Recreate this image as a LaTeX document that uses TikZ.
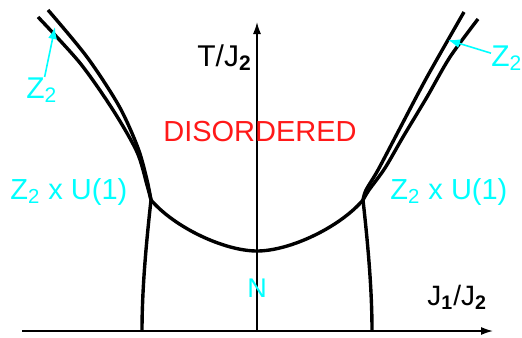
\documentclass[tikz,border=0pt]{standalone}
\usepackage{fontspec}
\setmainfont{Liberation Sans}
\usepackage{xcolor}
\usepackage{tikz}
\usetikzlibrary{arrows.meta, positioning, calc}
\definecolor{phasecyan}{RGB}{0, 255, 255}
\definecolor{phasered}{RGB}{255, 25, 25}

\begin{document}
\begin{tikzpicture}[x=0.5pt, y=-0.5pt,
        boundary/.style={line width=1.7pt},
        axis/.style={line width=0.75pt, -{Latex[length=6pt, width=4pt]}},
        phase/.style={text=phasecyan, inner sep=0pt, font=\fontsize{14.5}{17}\selectfont},
        zarrow/.style={phasecyan, line width=0.8pt, -{Latex[length=6pt, width=4.5pt]}}]
    \useasboundingbox (0,0) rectangle (522,337);

    % axes
    \coordinate (xstart) at (22,331);
    \coordinate (xend) at (493,331);
    \coordinate (origin) at (257,331);
    \coordinate (yend) at (257,22);
    \draw[axis] (xstart) -- (xend);
    \draw[axis] (origin) -- (yend);
    \node[anchor=base west, inner sep=0pt, font=\fontsize{15}{18}\selectfont] (tlabel) at (197,66) {T/J\textsubscript{\bfseries 2}};
    \node[anchor=base west, inner sep=0pt, font=\fontsize{14}{17}\selectfont] (jlabel) at (427,305) {J\textsubscript{\bfseries 1}/J\textsubscript{\bfseries 2}};

    % special points
    \coordinate (lcusp) at (151,200);
    \coordinate (rcusp) at (363,200);
    \coordinate (bottom) at (257,251);

    % Z2 lines (left pair)
    \draw[boundary] plot[smooth] coordinates {(38,17) (80,63) (113,110) (137,152) (147,185) (151,200)};
    \draw[boundary] plot[smooth] coordinates {(48,10) (87,57) (119,106) (138,148) (147,180) (151,200)};
    % Z2 lines (right pair)
    \draw[boundary] plot[smooth] coordinates {(464,12) (427,77) (399,130) (378,170) (366,190) (363,200)};
    \draw[boundary] plot[smooth] coordinates {(478,19) (450,57) (427,97) (403,137) (385,168) (369,190) (363,200)};

    % U(1) lines down to the axis
    \draw[boundary] (lcusp) .. controls (146,245) and (142,290) .. (142,331);
    \draw[boundary] (rcusp) .. controls (368,245) and (372,290) .. (372,331);

    % N boundary
    \draw[boundary] (lcusp) .. controls (175,228) and (225,251) .. (bottom)
        .. controls (289,251) and (339,228) .. (rcusp);

    % phases
    \node[anchor=base, inner sep=0pt, text=phasered, font=\fontsize{14.5}{17}\selectfont] (disorder) at (260,141) {DISORDERED};
    \node[phase, anchor=base west] (zuleft) at (10,199) {Z\textsubscript{2} x U(1)};
    \node[phase, anchor=base west] (zuright) at (390,199) {Z\textsubscript{2} x U(1)};
    \node[phase, anchor=base, font=\fontsize{13.5}{16}\selectfont] (nphase) at (257,297) {N};

    % Z2 labels with arrows
    \coordinate (ltip) at (55,27);
    \coordinate (rtip) at (448,40);
    \node[phase, anchor=base west, font=\fontsize{15}{18}\selectfont] (zleft) at (26,98) {Z\textsubscript{2}};
    \node[phase, anchor=base west, font=\fontsize{15}{18}\selectfont] (zright) at (491,66) {Z\textsubscript{2}};
    \draw[zarrow] (zleft) -- (ltip);
    \draw[zarrow] (zright) -- (rtip);
\end{tikzpicture}
\end{document}
